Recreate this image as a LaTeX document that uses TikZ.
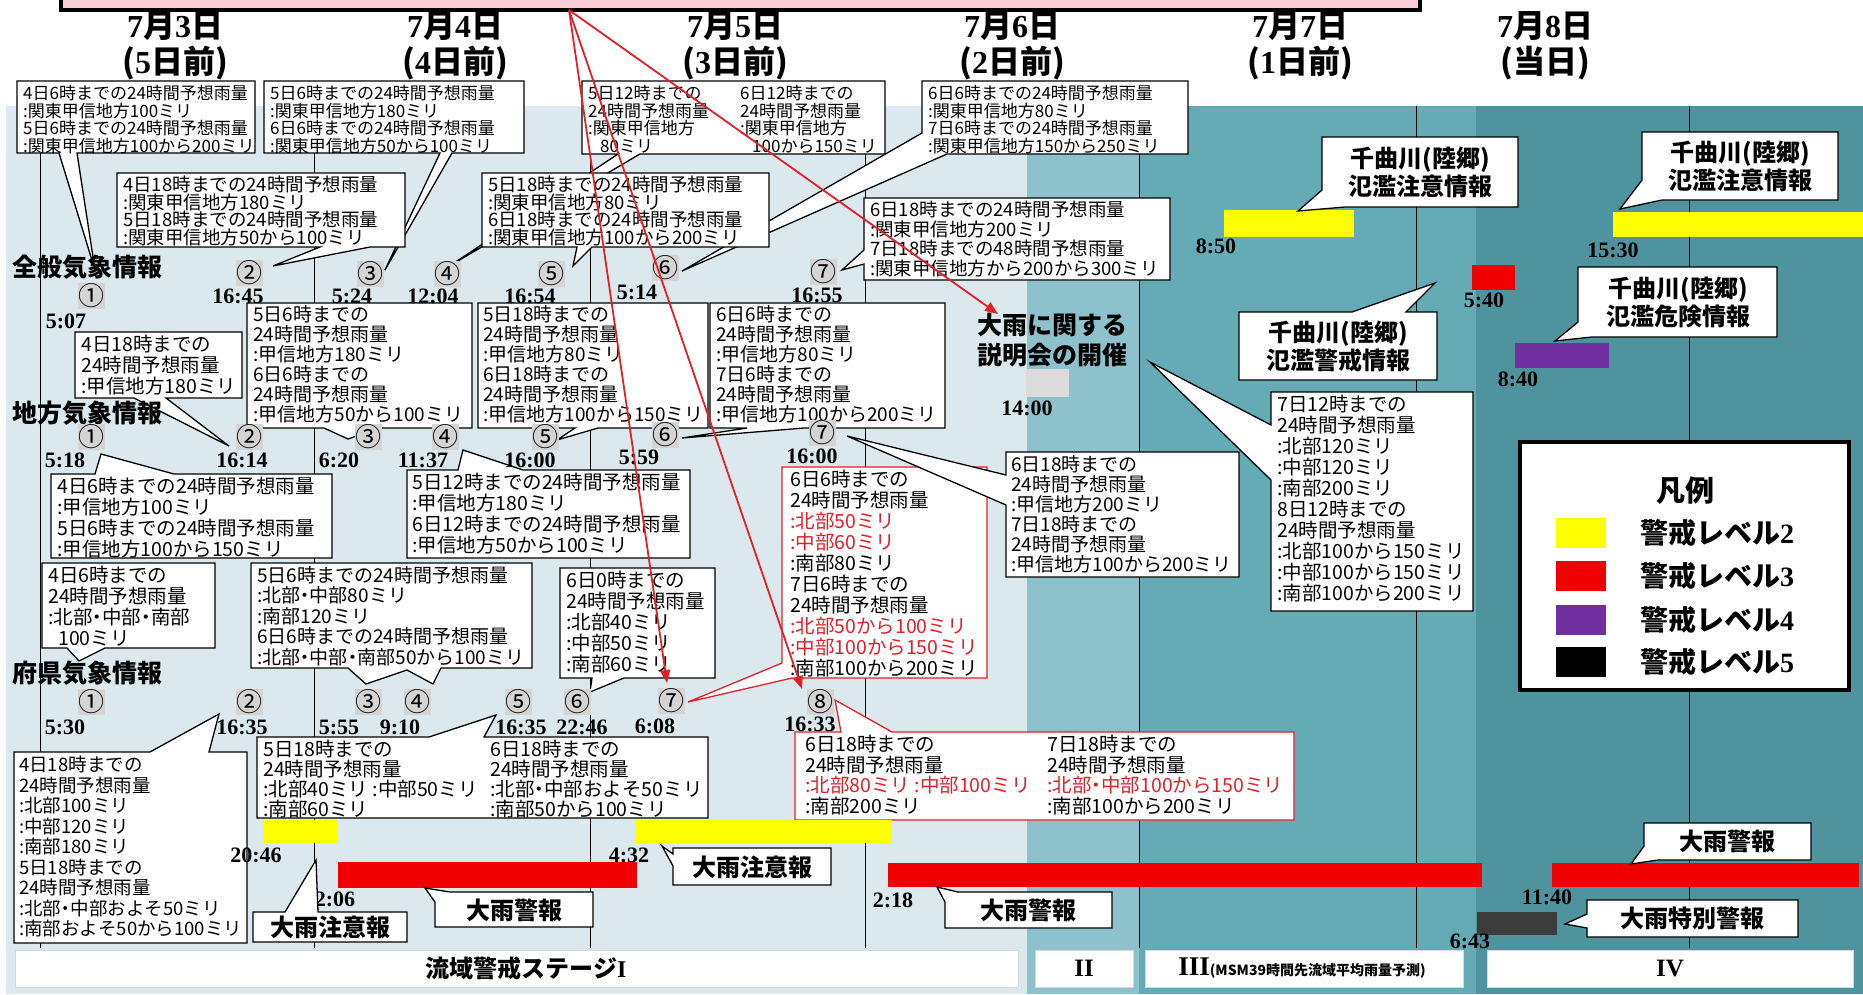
\documentclass[tikz,border=0pt]{standalone}
\usepackage{fontspec}
\setmainfont{Noto Sans CJK JP}
\newfontfamily\tms{Liberation Serif}
\usetikzlibrary{arrows.meta}
\definecolor{bgI}{RGB}{219,233,238}
\definecolor{bgII}{RGB}{141,194,205}
\definecolor{bgIII}{RGB}{100,171,182}
\definecolor{bgIV}{RGB}{79,147,158}
\definecolor{pinkc}{RGB}{250,205,215}
\definecolor{tred}{RGB}{230,30,40}
\definecolor{lvY}{RGB}{255,255,0}
\definecolor{lvR}{RGB}{240,0,0}
\definecolor{lvP}{RGB}{112,48,160}
\definecolor{lvK}{RGB}{60,60,60}
\definecolor{mkgray}{RGB}{212,212,212}
\newcommand\dg[1]{{\tms\bfseries #1}}
\newcommand\rt[1]{\textcolor{tred}{#1}}
\newcommand\nk{\makebox[0.5em][c]{・}}
\begin{document}
\begin{tikzpicture}[x=1pt,y=-1pt,
  cb/.style={draw=black,line width=1.3pt,fill=white,line join=miter},
  rcb/.style={draw=tred,line width=1.3pt,fill=white,line join=miter},
  bt/.style={anchor=north west,inner sep=0pt,align=left,font=\fontsize{19.5}{21}\selectfont},
  bts/.style={bt,font=\fontsize{17}{17.5}\selectfont},
  btm/.style={bt,font=\fontsize{18.5}{17.6}\selectfont},
  bt6/.style={bt,font=\fontsize{19}{20}\selectfont},
  lab/.style={inner sep=0pt,align=center,font=\bfseries\fontsize{24}{28}\selectfont},
  mk/.style={fill=mkgray,inner sep=0.5pt,font=\fontsize{26}{26}\selectfont},
  tm/.style={inner sep=0pt,font=\tms\bfseries\fontsize{22}{22}\selectfont},
  hdr/.style={inner sep=0pt,font=\bfseries\fontsize{32}{32}\selectfont},
  rowlab/.style={anchor=west,inner sep=0pt,font=\bfseries\fontsize{25}{25}\selectfont},
  arr/.style={draw=tred,line width=1.8pt,-{Triangle[length=13pt,width=10pt]}},
  dayline/.style={draw=black,line width=0.8pt},
  stagebox/.style={fill=white,draw=black!15,line width=1pt},
]
\useasboundingbox (0,0) rectangle (1863,994);
% backgrounds
\fill[bgI] (6,106) rectangle (1027,994);
\fill[bgII] (1027,106) rectangle (1139,994);
\fill[bgIII] (1139,106) rectangle (1476,994);
\fill[bgIV] (1476,106) rectangle (1863,994);
\foreach \x in {40,314,590,865,1139,1416,1689} \draw[dayline] (\x,106) -- (\x,948);
% pink title box (cut by top edge)
\fill[pinkc] (61,-10) rectangle (1420,10);
\draw[line width=3.5pt] (61,-10) -- (61,10) -- (1420,10) -- (1420,-10);
\coordinate (src) at (569,10);
% headers
\node[hdr] (h3a) at (175,26) {\dg{7}月\dg{3}日};
\node[hdr] (h3b) at (175,63) {(\dg{5}日前)};
\node[hdr] (h4a) at (455,26) {\dg{7}月\dg{4}日};
\node[hdr] (h4b) at (455,63) {(\dg{4}日前)};
\node[hdr] (h5a) at (735,26) {\dg{7}月\dg{5}日};
\node[hdr] (h5b) at (735,63) {(\dg{3}日前)};
\node[hdr] (h6a) at (1012,26) {\dg{7}月\dg{6}日};
\node[hdr] (h6b) at (1012,63) {(\dg{2}日前)};
\node[hdr] (h7a) at (1300,26) {\dg{7}月\dg{7}日};
\node[hdr] (h7b) at (1300,63) {(\dg{1}日前)};
\node[hdr] (h8a) at (1545,26) {\dg{7}月\dg{8}日};
\node[hdr] (h8b) at (1545,63) {(当日)};
% ===== row 1 callouts =====
\draw[cb] (922,81)--(1188,81)--(1188,154)--(947,154)--(682,271)--(922,133)--cycle;
\draw[cb] (582,81)--(885,81)--(885,154)--(640,154)--(451,265)--(618,154)--(582,154)--cycle;
\draw[cb] (482,173)--(769,173)--(769,247)--(592,247)--(573,266)--(577,247)--(482,247)--cycle;
\draw[cb] (17,81)--(255,81)--(255,153)--(77,153)--(95,270)--(59,153)--(17,153)--cycle;
\draw[cb] (264,81)--(524,81)--(524,153)--(452,153)--(385,270)--(440,153)--(264,153)--cycle;
\draw[cb] (117,173)--(405,173)--(405,247)--(370,247)--(273,266)--(320,247)--(117,247)--cycle;
\draw[cb] (864,198)--(1170,198)--(1170,280)--(864,280)--(864,264)--(842,270)--(864,250)--cycle;
\node[bts] (b1) at (23,85) {4日6時までの24時間予想雨量\\:関東甲信地方100ミリ\\5日6時までの24時間予想雨量\\:関東甲信地方100から200ミリ};
\node[bts] (b2) at (270,85) {5日6時までの24時間予想雨量\\:関東甲信地方180ミリ\\6日6時までの24時間予想雨量\\:関東甲信地方50から100ミリ};
\node[bts] (b5l) at (588,85) {5日12時までの\\24時間予想雨量\\:関東甲信地方\\\hspace*{12pt}80ミリ};
\node[bts] (b5r) at (740,85) {6日12時までの\\24時間予想雨量\\:関東甲信地方\\\hspace*{12pt}100から150ミリ};
\node[bts] (b6) at (928,85) {6日6時までの24時間予想雨量\\:関東甲信地方80ミリ\\7日6時までの24時間予想雨量\\:関東甲信地方150から250ミリ};
\node[btm] (b3) at (123,176) {4日18時までの24時間予想雨量\\:関東甲信地方180ミリ\\5日18時までの24時間予想雨量\\:関東甲信地方50から100ミリ};
\node[btm] (b4) at (488,176) {5日18時までの24時間予想雨量\\:関東甲信地方80ミリ\\6日18時までの24時間予想雨量\\:関東甲信地方100から200ミリ};
\node[bt,font=\fontsize{18.5}{19.5}\selectfont] (b7) at (870,201) {6日18時までの24時間予想雨量\\:関東甲信地方200ミリ\\7日18時までの48時間予想雨量\\:関東甲信地方から200から300ミリ};
% ===== row 2 callouts =====
\draw[cb] (75,332)--(242,332)--(242,398)--(166,398)--(229,446)--(134,398)--(75,398)--cycle;
\draw[cb] (247,303)--(472,303)--(472,428)--(379,428)--(348,439)--(324,428)--(247,428)--cycle;
\draw[cb] (478,303)--(708,303)--(708,428)--(598,428)--(557,440)--(575,428)--(478,428)--cycle;
\draw[cb] (710,303)--(945,303)--(945,428)--(804,428)--(682,438)--(747,428)--(710,428)--cycle;
\draw[rcb] (782,467)--(987,467)--(987,678)--(792,678)--(688,702)--(782,663)--cycle;
\draw[cb] (1006,452)--(1239,452)--(1239,577)--(1006,577)--(1006,505)--(847,436)--(1006,475)--cycle;
\draw[cb] (51,474)--(95,474)--(101,454)--(174,474)--(332,474)--(332,558)--(51,558)--cycle;
\draw[cb] (407,470)--(458,470)--(463,450)--(523,470)--(690,470)--(690,558)--(407,558)--cycle;
\node[bt] (c1) at (81,335) {4日18時までの\\24時間予想雨量\\:甲信地方180ミリ};
\node[bt6] (c2) at (253,305) {5日6時までの\\24時間予想雨量\\:甲信地方180ミリ\\6日6時までの\\24時間予想雨量\\:甲信地方50から100ミリ};
\node[bt6] (c3) at (483,305) {5日18時までの\\24時間予想雨量\\:甲信地方80ミリ\\6日18時までの\\24時間予想雨量\\:甲信地方100から150ミリ};
\node[bt6] (c4) at (716,305) {6日6時までの\\24時間予想雨量\\:甲信地方80ミリ\\7日6時までの\\24時間予想雨量\\:甲信地方100から200ミリ};
\node[bt] (c6) at (790,470) {6日6時までの\\24時間予想雨量\\\rt{:北部50ミリ}\\\rt{:中部60ミリ}\\:南部80ミリ\\7日6時までの\\24時間予想雨量\\\rt{:北部50から100ミリ}\\\rt{:中部100から150ミリ}\\:南部100から200ミリ};
\node[bt6] (c5) at (1011,455) {6日18時までの\\24時間予想雨量\\:甲信地方200ミリ\\7日18時までの\\24時間予想雨量\\:甲信地方100から200ミリ};
\node[bt] (c7) at (57,477) {4日6時までの24時間予想雨量\\:甲信地方100ミリ\\5日6時までの24時間予想雨量\\:甲信地方100から150ミリ};
\node[bt] (c8) at (412,473) {5日12時までの24時間予想雨量\\:甲信地方180ミリ\\6日12時までの24時間予想雨量\\:甲信地方50から100ミリ};
% row 1 labels and markers
\node[rowlab] (r1) at (12,267) {全般気象情報};
\node[mk] (z1) at (91,296) {①};
\node[mk] (z2) at (249,273) {②};
\node[mk] (z3) at (370,274) {③};
\node[mk] (z4) at (447,274) {④};
\node[mk] (z5) at (551,274) {⑤};
\node[mk] (z6) at (665,268) {⑥};
\node[mk] (z7) at (823,272) {⑦};
\node[tm] (zt1) at (66,321) {5:07};
\node[tm] (zt2) at (238,296) {16:45};
\node[tm] (zt3) at (352,296) {5:24};
\node[tm] (zt4) at (433,296) {12:04};
\node[tm] (zt5) at (530,296) {16:54};
\node[tm] (zt6) at (637,292) {5:14};
\node[tm] (zt7) at (817,295) {16:55};
% row 2 labels and markers
\node[rowlab] (r2) at (12,413) {地方気象情報};
\node[mk] (c1m) at (91,437) {①};
\node[mk] (c2m) at (249,437) {②};
\node[mk] (c3m) at (368,437) {③};
\node[mk] (c4m) at (445,437) {④};
\node[mk] (c5m) at (545,437) {⑤};
\node[mk] (c6m) at (665,435) {⑥};
\node[mk] (c7m) at (822,433) {⑦};
\node[tm] (ct1) at (65,460) {5:18};
\node[tm] (ct2) at (242,460) {16:14};
\node[tm] (ct3) at (339,460) {6:20};
\node[tm] (ct4) at (423,460) {11:37};
\node[tm] (ct5) at (530,460) {16:00};
\node[tm] (ct6) at (639,457) {5:59};
\node[tm] (ct7) at (812,456) {16:00};
% ===== row 3 callouts =====
\draw[cb] (42,563)--(215,563)--(215,648)--(105,648)--(79,661)--(67,648)--(42,648)--cycle;
\draw[cb] (251,563)--(532,563)--(532,668)--(441,668)--(433,684)--(407,670)--(366,684)--(348,668)--(251,668)--cycle;
\draw[cb] (560,568)--(715,568)--(715,678)--(624,678)--(590,692)--(592,678)--(560,678)--cycle;
\draw[cb] (14,752)--(150,752)--(219,714)--(209,752)--(247,752)--(247,943)--(14,943)--cycle;
\draw[cb] (257,737)--(429,737)--(496,715)--(484,737)--(708,737)--(708,818)--(257,818)--cycle;
\draw[rcb] (795,732)--(841,732)--(835,700)--(892,732)--(1294,732)--(1294,820)--(795,820)--cycle;
\node[bt] (d1) at (48,566) {4日6時までの\\24時間予想雨量\\:北部\nk 中部\nk 南部\\\hspace*{10pt}100ミリ};
\node[bt,font=\fontsize{19}{20.5}\selectfont] (d2) at (257,566) {5日6時までの24時間予想雨量\\:北部\nk 中部80ミリ\\:南部120ミリ\\6日6時までの24時間予想雨量\\:北部\nk 中部\nk 南部50から100ミリ};
\node[bt] (d3) at (566,571) {6日0時までの\\24時間予想雨量\\:北部40ミリ\\:中部50ミリ\\:南部60ミリ};
\node[bt,font=\fontsize{18.5}{20.5}\selectfont] (d4) at (19,756) {4日18時までの\\24時間予想雨量\\:北部100ミリ\\:中部120ミリ\\:南部180ミリ\\5日18時までの\\24時間予想雨量\\:北部\nk 中部およそ50ミリ\\:南部およそ50から100ミリ};
\node[bt,font=\fontsize{19.5}{19.8}\selectfont] (d5l) at (263,740) {5日18時までの\\24時間予想雨量\\:北部40ミリ :中部50ミリ\\:南部60ミリ};
\node[bt,font=\fontsize{19.5}{19.8}\selectfont] (d5r) at (490,740) {6日18時までの\\24時間予想雨量\\:北部\nk 中部およそ50ミリ\\:南部50から100ミリ};
\node[bt,font=\fontsize{19.5}{20.5}\selectfont] (el) at (805,735) {6日18時までの\\24時間予想雨量\\\rt{:北部80ミリ\ :中部100ミリ}\\:南部200ミリ};
\node[bt,font=\fontsize{19.5}{20.5}\selectfont] (er) at (1047,735) {7日18時までの\\24時間予想雨量\\\rt{:北部\nk 中部100から150ミリ}\\:南部100から200ミリ};
\node[rowlab] (r3) at (12,673) {府県気象情報};
\node[mk] (f1) at (91,702) {①};
\node[mk] (f2) at (249,702) {②};
\node[mk] (f3) at (368,702) {③};
\node[mk] (f4) at (417,702) {④};
\node[mk] (f5) at (518,702) {⑤};
\node[mk] (f6) at (577,702) {⑥};
\node[mk] (f7) at (671,701) {⑦};
\node[mk] (f8) at (820,702) {⑧};
\node[tm] (ft1) at (65,727) {5:30};
\node[tm] (ft2) at (242,727) {16:35};
\node[tm] (ft3) at (339,727) {5:55};
\node[tm] (ft4) at (400,727) {9:10};
\node[tm] (ft5) at (521,727) {16:35};
\node[tm] (ft6) at (582,727) {22:46};
\node[tm] (ft7) at (655,726) {6:08};
\node[tm] (ft8) at (810,724) {16:33};
% ===== warning bars =====
\fill[lvY] (263,820) rectangle (338,843);
\fill[lvY] (635,820) rectangle (892,843);
\fill[lvR] (338,862) rectangle (637,888);
\fill[lvR] (888,863) rectangle (1482,887);
\fill[lvR] (1552,863) rectangle (1859,887);
\fill[lvK] (1477,912) rectangle (1557,935);
\fill[lvY] (1224,210) rectangle (1354,237);
\fill[lvY] (1613,212) rectangle (1863,237);
\fill[lvR] (1472,265) rectangle (1515,290);
\fill[lvP] (1515,343) rectangle (1609,368);
\fill[black!14] (1026,369) rectangle (1069,397);
\node[tm] (t1) at (256,855) {20:46};
\node[tm] (t2) at (335,899) {2:06};
\node[tm] (t3) at (629,855) {4:32};
\node[tm] (t4) at (893,900) {2:18};
\node[tm] (t5) at (1547,897) {11:40};
\node[tm] (t6) at (1470,941) {6:43};
\node[tm] (t7) at (1216,246) {8:50};
\node[tm] (t8) at (1613,250) {15:30};
\node[tm] (t9) at (1484,300) {5:40};
\node[tm] (t10) at (1518,379) {8:40};
\node[tm] (t11) at (1027,408) {14:00};
% bottom callouts
\draw[cb] (253,912)--(285,912)--(316,860)--(318,912)--(407,912)--(407,942)--(253,942)--cycle;
\node[lab] (w1) at (330,927) {大雨注意報};
\draw[cb] (450,892)--(593,892)--(593,927)--(435,927)--(435,902)--(425,888)--cycle;
\node[lab] (w2) at (514,910) {大雨警報};
\draw[cb] (673,848)--(831,848)--(831,885)--(673,885)--(673,866)--(662,846)--(673,854)--cycle;
\node[lab] (w3) at (752,867) {大雨注意報};
\draw[cb] (958,892)--(1112,892)--(1112,928)--(945,928)--(945,902)--(937,887)--cycle;
\node[lab] (w4) at (1028,910) {大雨警報};
\draw[cb] (1644,823)--(1811,823)--(1811,860)--(1658,860)--(1631,864)--(1644,846)--cycle;
\node[lab] (w5) at (1727,841) {大雨警報};
\draw[cb] (1587,900)--(1798,900)--(1798,937)--(1587,937)--(1587,928)--(1565,924)--(1587,914)--cycle;
\node[lab] (w6) at (1692,918) {大雨特別警報};
% right callouts
\draw[cb] (1322,137)--(1518,137)--(1518,207)--(1345,207)--(1298,211)--(1322,190)--cycle;
\node[lab] (k1) at (1420,172) {千曲川(陸郷)\\氾濫注意情報};
\draw[cb] (1642,132)--(1838,132)--(1838,200)--(1662,200)--(1620,209)--(1642,180)--cycle;
\node[lab] (k2) at (1740,166) {千曲川(陸郷)\\氾濫注意情報};
\draw[cb] (1239,312)--(1352,312)--(1435,283)--(1406,312)--(1437,312)--(1437,380)--(1239,380)--cycle;
\node[lab] (k3) at (1338,346) {千曲川(陸郷)\\氾濫警戒情報};
\draw[cb] (1578,267)--(1777,267)--(1777,337)--(1592,337)--(1555,341)--(1578,322)--cycle;
\node[lab] (k4) at (1678,302) {千曲川(陸郷)\\氾濫危険情報};
\draw[cb] (1271,392)--(1473,392)--(1473,611)--(1271,611)--(1271,480)--(1150,362)--(1271,425)--cycle;
\node[bt] (fbox) at (1277,395) {7日12時までの\\24時間予想雨量\\:北部120ミリ\\:中部120ミリ\\:南部200ミリ\\8日12時までの\\24時間予想雨量\\:北部100から150ミリ\\:中部100から150ミリ\\:南部100から200ミリ};
\node[lab,font=\bfseries\fontsize{25}{30}\selectfont] (setsumei) at (1052,340) {大雨に関する\\説明会の開催};
% legend
\draw[line width=4pt,fill=white] (1520,442) rectangle (1849,690);
\node[lab,font=\bfseries\fontsize{29}{29}\selectfont] (lg) at (1685,491) {凡例};
\fill[lvY] (1556,518) rectangle (1606,548);
\fill[lvR] (1556,561) rectangle (1606,591);
\fill[lvP] (1556,605) rectangle (1606,635);
\fill[black] (1556,647) rectangle (1606,677);
\node[lab,anchor=west,font=\bfseries\fontsize{28}{28}\selectfont] (lg2) at (1640,533) {警戒レベル\dg{2}};
\node[lab,anchor=west,font=\bfseries\fontsize{28}{28}\selectfont] (lg3) at (1640,576) {警戒レベル\dg{3}};
\node[lab,anchor=west,font=\bfseries\fontsize{28}{28}\selectfont] (lg4) at (1640,620) {警戒レベル\dg{4}};
\node[lab,anchor=west,font=\bfseries\fontsize{28}{28}\selectfont] (lg5) at (1640,662) {警戒レベル\dg{5}};
% stage row
\draw[stagebox] (15,950) rectangle (1018,987);
\draw[stagebox] (1035,950) rectangle (1133,987);
\draw[stagebox] (1145,950) rectangle (1463,987);
\draw[stagebox] (1487,950) rectangle (1853,987);
\node[lab,font=\bfseries\fontsize{24}{24}\selectfont] (s1) at (526,968) {流域警戒ステージ\dg{I}};
\node[tm,font=\tms\bfseries\fontsize{25}{25}\selectfont] (s2) at (1084,968) {II};
\node[inner sep=0pt] (s3) at (1302,968) {{\tms\bfseries\fontsize{27}{27}\selectfont III}{\bfseries\fontsize{14}{14}\selectfont (MSM39時間先流域平均雨量予測)}};
\node[tm,font=\tms\bfseries\fontsize{25}{25}\selectfont] (s4) at (1670,968) {IV};
% red arrows from the title box
\coordinate (a7) at (667,683);
\coordinate (a8) at (802,689);
\coordinate (a9) at (998,314);
\draw[arr] (src) -- (a7);
\draw[arr] (src) -- (a8);
\draw[arr] (src) -- (a9);
\end{tikzpicture}
\end{document}
